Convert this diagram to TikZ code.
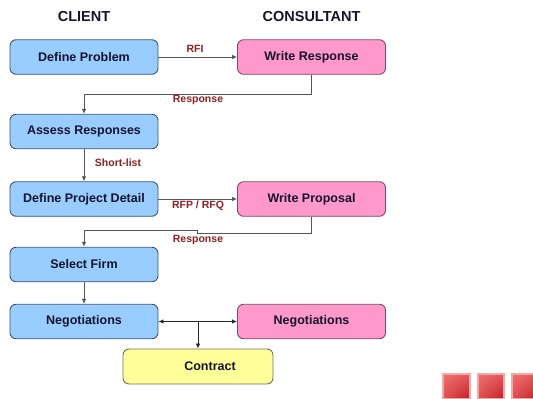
\documentclass[tikz,border=0pt]{standalone}
\usepackage{fontspec}
\setmainfont{Liberation Sans}
\usetikzlibrary{arrows.meta,shadings}
\definecolor{blueF}{HTML}{99CCFF}
\definecolor{blueD}{HTML}{3D5670}
\definecolor{pinkF}{HTML}{FF99CC}
\definecolor{pinkD}{HTML}{7A4A66}
\definecolor{yelF}{HTML}{FFFF99}
\definecolor{yelD}{HTML}{70705A}
\definecolor{textC}{HTML}{14142E}
\definecolor{lblC}{HTML}{8B2020}
\definecolor{lineC}{HTML}{555555}
\definecolor{sqA}{HTML}{EE7070}
\definecolor{sqB}{HTML}{C41E24}
\definecolor{sqE}{HTML}{F4A8A8}
\tikzset{
  box/.style={draw, rounded corners=6pt, minimum width=148pt, minimum height=34.5pt,
    inner sep=0pt, line width=0.9pt, text=textC,
    font=\fontsize{12.5}{14}\selectfont\bfseries},
  client/.style={box, fill=blueF, draw=blueD},
  cons/.style={box, fill=pinkF, draw=pinkD},
  final/.style={box, fill=yelF, draw=yelD, minimum width=150pt, minimum height=35pt},
  conn/.style={draw=lineC, line width=0.8pt, -{Latex[length=5pt,width=4.5pt]}},
  both/.style={draw=black!85, line width=0.9pt, {Latex[length=5pt,width=4.5pt]}-{Latex[length=5pt,width=4.5pt]}},
  lbl/.style={text=lblC, font=\fontsize{10.5}{12}\selectfont\bfseries, inner sep=0pt},
  hdr/.style={text=textC, font=\fontsize{14.5}{16}\selectfont\bfseries, inner sep=0pt},
  sq/.style={upper left=sqA, upper right=sqA!70!sqB, lower left=sqA!60!sqB, lower right=sqB}
}
\begin{document}
\begin{tikzpicture}[x=1pt, y=-1pt]
\useasboundingbox (0,0) rectangle (533,399);
% headers
\node[hdr] (hc) at (84,17) {CLIENT};
\node[hdr] (hk) at (311.5,17) {CONSULTANT};
% boxes
\node[client] (dp)  at (84,57)    {Define Problem};
\node[cons]   (wr)  at (311.5,57) {Write Response};
\node[client] (ar)  at (84,131.5) {Assess Responses};
\node[client] (dpd) at (84,199)   {Define Project Detail};
\node[cons]   (wp)  at (311.5,199) {Write Proposal};
\node[client] (sf)  at (84,264.5) {Select Firm};
\node[client] (ng)  at (84,321.5) {Negotiations};
\node[cons]   (nc)  at (311.5,321.5) {Negotiations};
\node[final]  (ct)  at (198,366.5) {\hspace*{24pt}Contract};
% connectors
\draw[conn] (dp) -- (wr);
\draw[conn] (wr.south) -- ++(0,20) -| (ar.north);
\draw[conn] (ar) -- (dpd);
\draw[conn] (dpd) -- (wp);
\coordinate (j1) at (197,233);
\coordinate (j2) at (197,230.5);
\draw[conn] (wp.south) |- (j1) -- (j2) -| (sf.north);
\draw[conn] (sf) -- (ng);
\draw[both] (ng) -- (nc);
\coordinate (jn) at (198,321.5);
\draw[conn, draw=black!85] (jn) -- (ct.north);
% labels
\node[lbl] (l1) at (195,49)  {RFI};
\node[lbl] (l2) at (198,100) {Response};
\node[lbl] (l3) at (118,163) {Short-list};
\node[lbl] (l4) at (198,205.5) {RFP / RFQ};
\node[lbl] (l5) at (198,240) {Response};
% decorative squares
\shade[sq] (443,374) rectangle (470,399);
\shade[sq] (478,374) rectangle (504,399);
\shade[sq] (512,374) rectangle (538,399);
\draw[sqE, line width=1.2pt] (443,374) rectangle (470,399);
\draw[sqE, line width=1.2pt] (478,374) rectangle (504,399);
\draw[sqE, line width=1.2pt] (512,374) rectangle (538,399);
\end{tikzpicture}
\end{document}
